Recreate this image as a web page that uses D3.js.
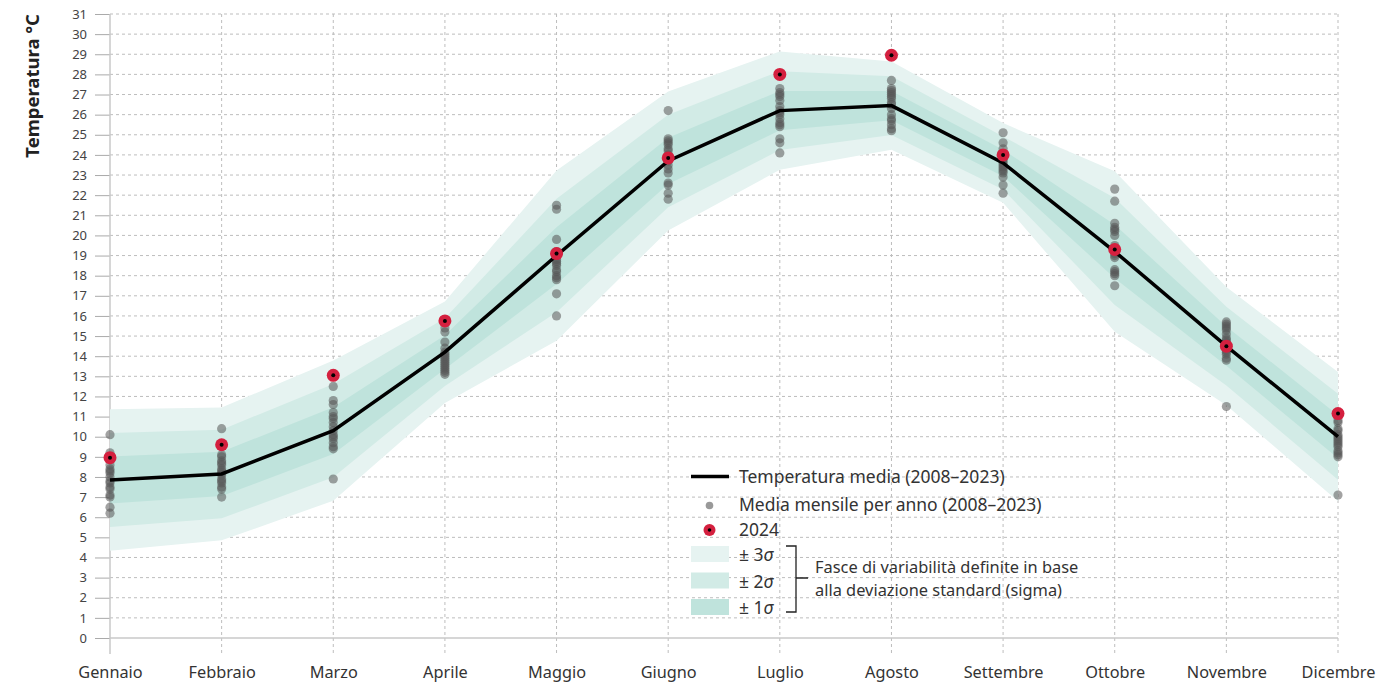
<!DOCTYPE html>
<html><head><meta charset="utf-8">
<script src="https://cdn.jsdelivr.net/npm/d3@7"></script>
<style>body{margin:0;background:#fff}svg{display:block;font-family:"Noto Sans",sans-serif}</style>
</head><body><svg id="c" width="1379" height="691"></svg>
<script>
const months = ["Gennaio","Febbraio","Marzo","Aprile","Maggio","Giugno","Luglio","Agosto","Settembre","Ottobre","Novembre","Dicembre"];
const meanTemp = [7.85, 8.15, 10.3, 14.2, 19.0, 23.7, 26.2, 26.45, 23.6, 19.2, 14.5, 10.0];
const sigma = [1.17, 1.1, 1.16, 0.84, 1.41, 1.15, 0.98, 0.73, 0.66, 1.33, 0.98, 1.07];
const temp2024 = [8.96, 9.6, 13.05, 15.75, 19.1, 23.85, 28.0, 28.95, 24.0, 19.3, 14.5, 11.15];
const yearlyGen = [10.1, 9.2, 8.9, 8.6, 8.4, 8.2, 8.0, 7.8, 7.7, 7.5, 7.4, 7.1, 7.0, 6.5, 6.2, 8.3];
const yearlyFeb = [10.4, 9.1, 9.0, 8.8, 8.7, 8.6, 8.4, 8.3, 8.2, 7.9, 7.8, 7.7, 7.5, 7.4, 7.0, 8.1];
const yearlyMar = [12.5, 11.8, 11.6, 11.2, 11.0, 10.9, 10.7, 10.5, 10.3, 10.1, 10.0, 9.9, 9.7, 9.5, 9.4, 7.9];
const yearlyApr = [15.4, 15.2, 14.7, 14.4, 14.2, 14.1, 14.0, 13.9, 13.8, 13.7, 13.6, 13.5, 13.4, 13.3, 13.2, 13.1];
const yearlyMag = [21.5, 21.3, 19.8, 19.2, 19.0, 18.8, 18.7, 18.6, 18.5, 18.3, 18.2, 18.0, 17.9, 17.8, 17.1, 16.0];
const yearlyGiu = [26.2, 24.8, 24.7, 24.6, 24.5, 24.3, 24.2, 24.0, 23.7, 23.5, 23.3, 23.1, 22.6, 22.5, 22.1, 21.8];
const yearlyLug = [27.3, 27.1, 27.0, 26.9, 26.7, 26.4, 26.2, 26.1, 26.0, 25.8, 25.6, 25.5, 25.4, 24.8, 24.6, 24.1];
const yearlyAgo = [27.7, 27.3, 27.2, 27.1, 27.0, 26.9, 26.8, 26.6, 26.5, 26.3, 26.0, 25.8, 25.7, 25.5, 25.3, 25.2];
const yearlySet = [25.1, 24.6, 24.3, 24.0, 23.9, 23.8, 23.7, 23.6, 23.5, 23.4, 23.3, 23.2, 23.1, 22.9, 22.5, 22.1];
const yearlyOtt = [22.3, 21.7, 20.6, 20.4, 20.3, 20.2, 20.0, 19.5, 19.1, 19.0, 18.9, 18.3, 18.2, 18.1, 18.0, 17.5];
const yearlyNov = [15.7, 15.6, 15.5, 15.4, 15.3, 15.1, 14.9, 14.8, 14.7, 14.6, 14.3, 14.2, 14.1, 13.9, 13.8, 11.5];
const yearlyDic = [10.8, 10.7, 10.4, 10.3, 10.1, 10.0, 9.9, 9.8, 9.7, 9.6, 9.5, 9.3, 9.2, 9.1, 9.0, 7.1];
const yearly = [yearlyGen, yearlyFeb, yearlyMar, yearlyApr, yearlyMag, yearlyGiu, yearlyLug, yearlyAgo, yearlySet, yearlyOtt, yearlyNov, yearlyDic];
const yTicks = d3.range(0, 32);
const bandLevels = [3, 2, 1];
const bandColors = ["#e6f3f1", "#d2ebe6", "#bfe3dc"];

const svg = d3.select("#c");
const x = d3.scalePoint().domain(months).range([110, 1338]);
const y = d3.scaleLinear().domain([0, 31]).range([638, 14]);
const txt = "#333";

// grid
const g = svg.append("g");
g.selectAll(".hg").data(yTicks.filter(d => d > 0)).join("line")
  .attr("x1", 110).attr("x2", 1338).attr("y1", d => y(d)).attr("y2", d => y(d))
  .attr("stroke", "#bdbdbd").attr("stroke-dasharray", "3,3").attr("stroke-width", 1);
g.selectAll(".vg").data(months.slice(1)).join("line")
  .attr("x1", d => x(d)).attr("x2", d => x(d)).attr("y1", 14).attr("y2", 655)
  .attr("stroke", "#bdbdbd").attr("stroke-dasharray", "3,3").attr("stroke-width", 1);

// y axis
const yAxis = d3.axisLeft(y).tickValues(yTicks).tickSize(15).tickPadding(8);
const ya = svg.append("g").attr("transform", "translate(110,0)").call(yAxis);
ya.select(".domain").remove();
ya.selectAll(".tick line").attr("stroke", "#aaa");
ya.selectAll(".tick text").attr("fill", "#444").style("font-size", "13px").style("font-family", "Noto Sans");
svg.append("line").attr("x1", 110).attr("x2", 110).attr("y1", 14).attr("y2", 654).attr("stroke", "#c8c8c8").attr("stroke-width", 1.5);
svg.append("line").attr("x1", 110).attr("x2", 1338).attr("y1", y(0)).attr("y2", y(0)).attr("stroke", "#c8c8c8").attr("stroke-width", 1.5);

// x axis labels
const xAxis = d3.axisBottom(x).tickSize(0).tickPadding(0);
const xa = svg.append("g").attr("transform", "translate(0,666)").call(xAxis);
xa.select(".domain").remove();
xa.selectAll(".tick text").attr("fill", txt).style("font-size", "16.3px").style("font-family", "Noto Sans");

// y title
svg.append("text").attr("transform", "translate(39,14) rotate(-90)").attr("text-anchor", "end")
  .attr("fill", "#222").style("font-size", "18.5px").style("font-weight", "bold").text("Temperatura °C");

// bands
bandLevels.forEach((k, i) => {
  const area = d3.area()
    .x((d, j) => x(months[j]))
    .y0((d, j) => y(meanTemp[j] - k * sigma[j]))
    .y1((d, j) => y(meanTemp[j] + k * sigma[j]));
  svg.append("path").datum(meanTemp).attr("d", area).attr("fill", bandColors[i]);
});

// yearly dots
const dots = [];
yearly.forEach((arr, j) => arr.forEach(v => dots.push({m: months[j], v})));
svg.append("g").selectAll("circle").data(dots).join("circle")
  .attr("cx", d => x(d.m)).attr("cy", d => y(d.v)).attr("r", 4.6)
  .attr("fill", "#555").attr("fill-opacity", 0.55);

// mean line
const line = d3.line().x((d, j) => x(months[j])).y(d => y(d));
svg.append("path").datum(meanTemp).attr("d", line).attr("fill", "none")
  .attr("stroke", "#000").attr("stroke-width", 3.5).attr("stroke-linejoin", "miter");

// 2024
const r24 = svg.append("g").selectAll("g").data(temp2024).join("g")
  .attr("transform", (d, j) => `translate(${x(months[j])},${y(d)})`);
r24.append("circle").attr("r", 6.5).attr("fill", "#d4203f");
r24.append("circle").attr("r", 2).attr("fill", "#000");

// legend
const L = svg.append("g").style("font-size", "17.5px").attr("fill", txt);
L.append("line").attr("x1", 691).attr("x2", 729).attr("y1", 476.5).attr("y2", 476.5).attr("stroke", "#000").attr("stroke-width", 3.5);
L.append("text").attr("x", 739).attr("y", 483).text("Temperatura media (2008–2023)");
L.append("circle").attr("cx", 709.5).attr("cy", 505.5).attr("r", 3.8).attr("fill", "#999");
L.append("text").attr("x", 739).attr("y", 511).text("Media mensile per anno (2008–2023)");
L.append("circle").attr("cx", 709.5).attr("cy", 530).attr("r", 6).attr("fill", "#d4203f");
L.append("circle").attr("cx", 709.5).attr("cy", 530).attr("r", 1.8).attr("fill", "#000");
L.append("text").attr("x", 739).attr("y", 536).text("2024");
const swY = [546, 572.5, 599];
bandLevels.forEach((k, i) => {
  L.append("rect").attr("x", 691).attr("y", swY[i]).attr("width", 38).attr("height", 16).attr("fill", bandColors[i]);
  const t = L.append("text").attr("x", 739).attr("y", swY[i] + 15);
  t.append("tspan").text("± " + k);
  t.append("tspan").style("font-style", "italic").text("σ");
});
L.append("path").attr("d", "M786,546 H796 V612 H786 M796,578 H808").attr("fill", "none").attr("stroke", "#222").attr("stroke-width", 1.3);
L.append("text").attr("x", 815).attr("y", 573).style("font-size", "16.4px").text("Fasce di variabilità definite in base");
L.append("text").attr("x", 815).attr("y", 596).style("font-size", "16.4px").text("alla deviazione standard (sigma)");
</script></body></html>
